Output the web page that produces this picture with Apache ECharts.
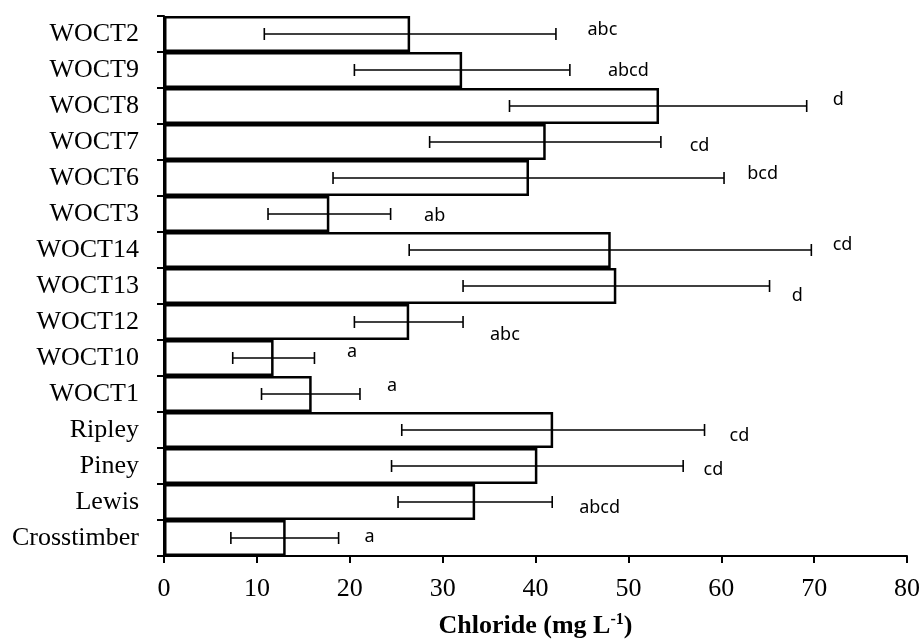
<!DOCTYPE html>
<html>
<head>
<meta charset="utf-8">
<script src="https://cdn.jsdelivr.net/npm/echarts@6/dist/echarts.min.js"></script>
<style>
  html, body { margin: 0; padding: 0; background: #fff; }
  #chart { width: 923px; height: 640px; }
</style>
</head>
<body>
<div id="chart"></div>
<script>
// ---- data ----
const categories = ['WOCT2','WOCT9','WOCT8','WOCT7','WOCT6','WOCT3','WOCT14','WOCT13','WOCT12','WOCT10','WOCT1','Ripley','Piney','Lewis','Crosstimber'];
const means   = [26.5, 32.1, 53.3, 41.1, 39.3, 17.8, 48.1, 48.7, 26.4, 11.8, 15.9, 41.9, 40.2, 33.5, 13.1];
const errLow  = [10.8, 20.5, 37.2, 28.6, 18.2, 11.2, 26.4, 32.2, 20.5,  7.4, 10.5, 25.6, 24.5, 25.2,  7.2];
const errHigh = [42.2, 43.7, 69.2, 53.5, 60.3, 24.4, 69.7, 65.2, 32.2, 16.2, 21.1, 58.2, 55.9, 41.8, 18.8];
const letters = ['abc','abcd','d','cd','bcd','ab','cd','d','abc','a','a','cd','cd','abcd','a'];
const letterX = [45.6, 47.8, 72.0, 56.6, 62.8, 28.0, 72.0, 67.6, 35.1, 19.7, 24.0, 60.9, 58.1, 44.7, 21.6];
const xTicks = { min: 0, max: 80, interval: 10 };
// vertical nudges of the letter labels (layout only, px)
const letterDy = [-4, 1, -6, 4, -4, 2, -5, 10, 13, -6, -8, 6, 4, 6, -1];

const chart = echarts.init(document.getElementById('chart'), null, { renderer: 'canvas' });

const errData = categories.map((c, i) => [errLow[i], errHigh[i], i]);
const letterData = categories.map((c, i) => [letterX[i], i, letters[i], letterDy[i]]);

const option = {
  backgroundColor: '#ffffff',
  animation: false,
  grid: { left: 164, right: 16, top: 16, bottom: 84, containLabel: false, outerBoundsMode: 'none' },
  xAxis: {
    type: 'value',
    min: xTicks.min, max: xTicks.max, interval: xTicks.interval,
    axisLine: { show: true, lineStyle: { color: '#000', width: 2 } },
    axisTick: { show: true, length: 7, lineStyle: { color: '#000', width: 2 } },
    splitLine: { show: false },
    axisLabel: { color: '#000', fontFamily: 'Liberation Serif', fontSize: 26, margin: 20 },
    name: '{a|Chloride (mg L}{s|-1}{a|)}',
    nameLocation: 'middle',
    nameGap: 56,
    nameTextStyle: {
      rich: {
        a: { fontFamily: 'Liberation Serif', fontWeight: 'bold', fontSize: 26, color: '#000' },
        s: { fontFamily: 'Liberation Serif', fontWeight: 'bold', fontSize: 16, color: '#000', padding: [0, 0, 12, 0] }
      }
    }
  },
  yAxis: {
    type: 'category',
    data: categories,
    inverse: true,
    boundaryGap: true,
    axisLine: { show: true, lineStyle: { color: '#000', width: 2 } },
    axisTick: { show: true, length: 7, alignWithLabel: false, lineStyle: { color: '#000', width: 2 } },
    axisLabel: { color: '#000', fontFamily: 'Liberation Serif', fontSize: 26, margin: 25 },
    splitLine: { show: false }
  },
  series: [
    {
      type: 'bar',
      data: means,
      barCategoryGap: '0%',
      itemStyle: { color: '#fff', borderColor: '#000', borderWidth: 2.5 },
      z: 2
    },
    {
      type: 'custom',
      data: errData,
      clip: false,
      z: 5,
      renderItem: function (params, api) {
        const y = api.value(2);
        const p1 = api.coord([api.value(0), y]);
        const p2 = api.coord([api.value(1), y]);
        const cap = 6;
        const st = { stroke: '#000', lineWidth: 1.6 };
        return {
          type: 'group',
          children: [
            { type: 'line', shape: { x1: p1[0], y1: p1[1], x2: p2[0], y2: p2[1] }, style: st },
            { type: 'line', shape: { x1: p1[0], y1: p1[1] - cap, x2: p1[0], y2: p1[1] + cap }, style: st },
            { type: 'line', shape: { x1: p2[0], y1: p2[1] - cap, x2: p2[0], y2: p2[1] + cap }, style: st }
          ]
        };
      }
    },
    {
      type: 'custom',
      data: letterData,
      clip: false,
      z: 6,
      renderItem: function (params, api) {
        const p = api.coord([api.value(0), api.value(1)]);
        const d = letterData[params.dataIndex];
        return {
          type: 'text',
          style: {
            text: d[2],
            x: p[0],
            y: p[1] + d[3],
            align: 'left',
            verticalAlign: 'middle',
            font: '18px "Noto Sans"',
            fill: '#000'
          }
        };
      }
    }
  ]
};
chart.setOption(option);
</script>
</body>
</html>
